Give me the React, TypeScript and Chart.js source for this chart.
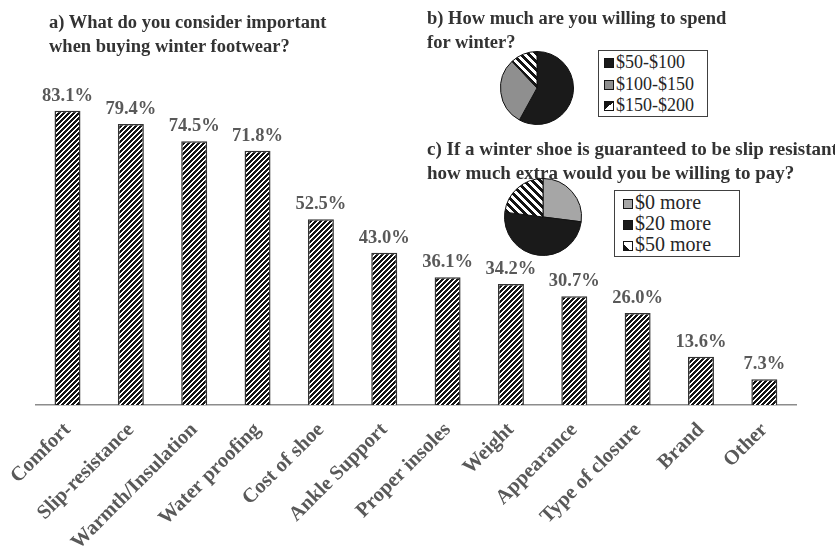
import React, { useEffect, useRef } from "react";
import { Chart, registerables } from "chart.js";

Chart.register(...registerables);

// ---- Data ----
const categories = [
  "Comfort",
  "Slip-resistance",
  "Warmth/Insulation",
  "Water proofing",
  "Cost of shoe",
  "Ankle Support",
  "Proper insoles",
  "Weight",
  "Appearance",
  "Type of closure",
  "Brand",
  "Other",
];
const importanceValues = [83.1, 79.4, 74.5, 71.8, 52.5, 43.0, 36.1, 34.2, 30.7, 26.0, 13.6, 7.3];

const spendLabels = ["$50-$100", "$100-$150", "$150-$200"];
const spendValues = [58, 30, 12];

const extraLabels = ["$0 more", "$20 more", "$50 more"];
const extraValues = [27, 50, 23];

const yMin = 0;
const yMax = 100;

const SERIF = '"Liberation Serif", "Times New Roman", serif';

function makeHatch(period: number, dark: number, reverse: boolean): CanvasPattern | string {
  const c = document.createElement("canvas");
  c.width = period;
  c.height = period;
  const ctx = c.getContext("2d");
  if (!ctx) return "#888";
  const img = ctx.createImageData(period, period);
  for (let y = 0; y < period; y++) {
    for (let x = 0; x < period; x++) {
      const k = reverse ? (((x - y) % period) + period) % period : (x + y) % period;
      const on = k < dark;
      const i = (y * period + x) * 4;
      const v = on ? 20 : 255;
      img.data[i] = v;
      img.data[i + 1] = v;
      img.data[i + 2] = v;
      img.data[i + 3] = 255;
    }
  }
  ctx.putImageData(img, 0, 0);
  return ctx.createPattern(c, "repeat") || "#888";
}

const valueLabelPlugin = {
  id: "valueLabels",
  afterDatasetsDraw(chart: any) {
    const { ctx } = chart;
    const meta = chart.getDatasetMeta(0);
    const data = chart.data.datasets[0].data as number[];
    ctx.save();
    ctx.font = `bold 18.5px ${SERIF}`;
    ctx.fillStyle = "#595959";
    ctx.textAlign = "center";
    ctx.textBaseline = "alphabetic";
    meta.data.forEach((bar: any, i: number) => {
      ctx.fillText(data[i].toFixed(1) + "%", bar.x, bar.y - 10);
    });
    ctx.restore();
  },
};

function BarChart() {
  const ref = useRef<HTMLCanvasElement>(null);
  useEffect(() => {
    if (!ref.current) return;
    const hatch = makeHatch(5, 3, false);
    const chart = new Chart(ref.current, {
      type: "bar",
      data: {
        labels: categories,
        datasets: [
          {
            data: importanceValues,
            backgroundColor: hatch as any,
            borderColor: "#333333",
            borderWidth: 1.5,
            barPercentage: 0.41,
            categoryPercentage: 1,
          },
        ],
      },
      options: {
        animation: false,
        responsive: false,
        maintainAspectRatio: false,
        layout: { padding: { left: 33, right: 39, top: 51, bottom: 0 } },
        plugins: { legend: { display: false }, tooltip: { enabled: false } },
        scales: {
          x: {
            grid: { display: false, drawTicks: false },
            border: { display: true, color: "#8c8c8c", width: 1.5 },
            ticks: {
              minRotation: 45,
              maxRotation: 45,
              autoSkip: false,
              padding: 13,
              color: "#595959",
              font: { family: SERIF, size: 20.5, weight: "bold" },
            },
            afterFit: (s: any) => {
              s.height = 141;
            },
          },
          y: { display: false, min: yMin, max: yMax },
        },
      },
      plugins: [valueLabelPlugin],
    });
    return () => chart.destroy();
  }, []);
  return (
    <canvas
      ref={ref}
      width={835}
      height={546}
      style={{ position: "absolute", left: 0, top: 0, width: 835, height: 546 }}
    />
  );
}

function PieChart({
  labels,
  values,
  colors,
  size,
  left,
  top,
}: {
  labels: string[];
  values: number[];
  colors: string[];
  size: number;
  left: number;
  top: number;
}) {
  const ref = useRef<HTMLCanvasElement>(null);
  useEffect(() => {
    if (!ref.current) return;
    const stripes = makeHatch(8, 4, true);
    const bg = colors.map((c) => (c === "pattern" ? stripes : c));
    const chart = new Chart(ref.current, {
      type: "pie",
      data: {
        labels,
        datasets: [
          {
            data: values,
            backgroundColor: bg as any,
            borderColor: "#111111",
            borderWidth: 1,
          },
        ],
      },
      options: {
        animation: false,
        responsive: false,
        maintainAspectRatio: false,
        layout: { padding: 1 },
        plugins: { legend: { display: false }, tooltip: { enabled: false } },
      },
    });
    return () => chart.destroy();
  }, []);
  return (
    <canvas
      ref={ref}
      width={size}
      height={size}
      style={{ position: "absolute", left, top, width: size, height: size }}
    />
  );
}

function Marker({ kind }: { kind: string }) {
  let background = kind;
  if (kind === "pattern") {
    background = "linear-gradient(135deg, #141414 0 50%, #ffffff 50% 100%)";
  }
  if (kind === "pattern2") {
    background = "linear-gradient(45deg, #141414 0 35%, #ffffff 35% 100%)";
  }
  return (
    <span
      style={{
        display: "inline-block",
        width: 8,
        height: 8,
        border: "1px solid #141414",
        background,
        marginRight: 2,
        verticalAlign: "baseline",
      }}
    />
  );
}

function Legend({
  labels,
  markers,
  left,
  top,
  width,
  height,
  fontSize,
  rowH,
  padLeft,
  padTop,
}: {
  labels: string[];
  markers: string[];
  left: number;
  top: number;
  width: number;
  height: number;
  fontSize: number;
  rowH: number;
  padLeft: number;
  padTop: number;
}) {
  return (
    <div
      style={{
        position: "absolute",
        left,
        top,
        width,
        height,
        boxSizing: "border-box",
        border: "1px solid #404040",
        fontFamily: SERIF,
        fontSize,
        color: "#262626",
        lineHeight: `${rowH}px`,
        paddingLeft: padLeft,
        paddingTop: padTop,
        whiteSpace: "nowrap",
        background: "#fff",
      }}
    >
      {labels.map((l, i) => (
        <div key={l}>
          <Marker kind={markers[i]} />
          {l}
        </div>
      ))}
    </div>
  );
}

const titleStyle: React.CSSProperties = {
  position: "absolute",
  fontFamily: SERIF,
  fontWeight: "bold",
  fontSize: 18.5,
  lineHeight: "24px",
  color: "#333333",
  whiteSpace: "nowrap",
};

export default function App() {
  return (
    <div
      style={{
        position: "absolute",
        left: 0,
        top: 0,
        width: 835,
        height: 546,
        overflow: "hidden",
        background: "#ffffff",
      }}
    >
      <BarChart />
      <div style={{ ...titleStyle, left: 49, top: 10 }}>
        a) What do you consider important
        <br />
        when buying winter footwear?
      </div>
      <div style={{ ...titleStyle, left: 427, top: 6 }}>
        b) How much are you willing to spend
        <br />
        for winter?
      </div>
      <div style={{ ...titleStyle, left: 427, top: 137, fontSize: 19 }}>
        c) If a winter shoe is guaranteed to be slip resistant,
        <br />
        how much extra would you be willing to pay?
      </div>
      <PieChart
        labels={spendLabels}
        values={spendValues}
        colors={["#1a1a1a", "#8f8f8f", "pattern"]}
        size={76}
        left={499}
        top={50}
      />
      <PieChart
        labels={extraLabels}
        values={extraValues}
        colors={["#a6a6a6", "#1a1a1a", "pattern"]}
        size={80}
        left={503}
        top={177}
      />
      <Legend
        labels={spendLabels}
        markers={["#1a1a1a", "#8f8f8f", "pattern"]}
        left={598}
        top={50}
        width={110}
        height={67}
        fontSize={18}
        rowH={21.5}
        padLeft={5}
        padTop={1}
      />
      <Legend
        labels={extraLabels}
        markers={["#a6a6a6", "#1a1a1a", "pattern2"]}
        left={614}
        top={190}
        width={126}
        height={67}
        fontSize={20}
        rowH={21}
        padLeft={8}
        padTop={1}
      />
    </div>
  );
}
